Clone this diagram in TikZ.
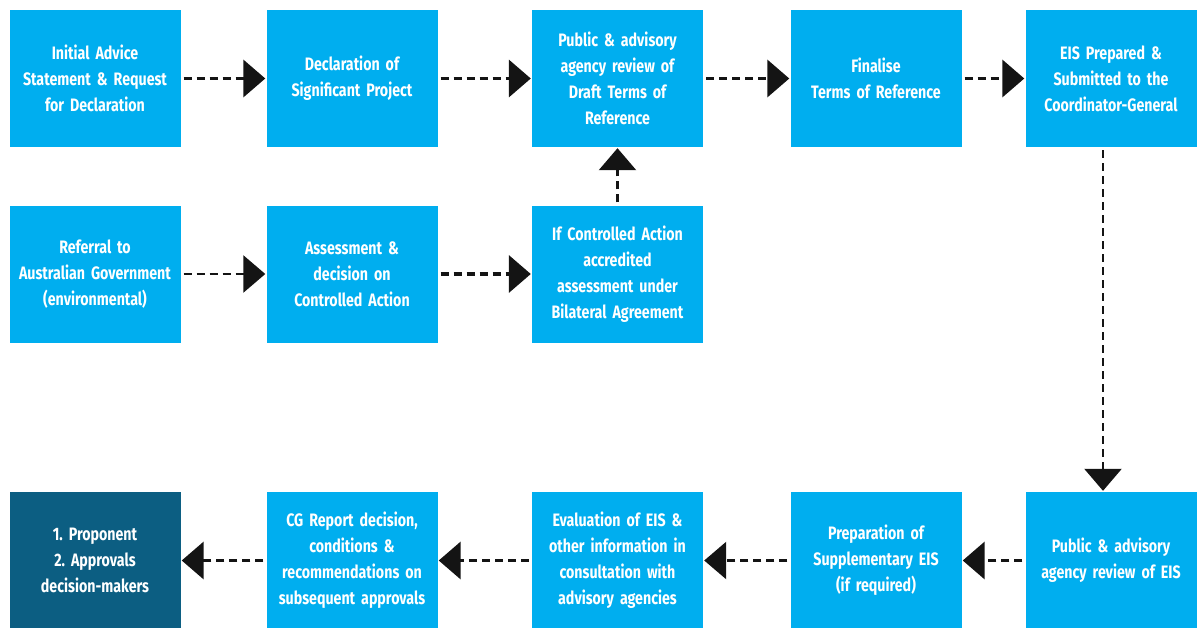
\documentclass[tikz,border=0pt]{standalone}
\usepackage{fontspec}
\setmainfont{Fira Sans}[FakeStretch=0.79,WordSpace=0.8]
\usetikzlibrary{arrows.meta,calc}
\frenchspacing
\definecolor{boxblue}{RGB}{0,174,239}
\definecolor{boxdark}{RGB}{12,94,130}
\tikzset{
  stepbox/.style={rectangle, fill=boxblue, draw=none, minimum width=171pt, minimum height=137pt,
    text width=168pt, align=center, text=white, font=\fontsize{18}{26}\selectfont\bfseries, inner sep=0pt},
  darkbox/.style={stepbox, fill=boxdark},
  flow/.style={line width=3.8pt, dash pattern=on 8pt off 5pt, draw=black!92,
    -{Triangle[length=22pt,width=37pt,fill=black!92]}, shorten <=3pt, shorten >=1pt},
  thinflow/.style={flow, line width=2.6pt}
}
\begin{document}
\begin{tikzpicture}[x=1pt,y=-1pt]
\useasboundingbox (0,0) rectangle (1202,627);
% row 1
\node[stepbox] (a1) at (95,78.5) {Initial Advice\\Statement \& Request\\for Declaration};
\node[stepbox] (a2) at (352,78.5) {Declaration of\\Significant Project};
\node[stepbox] (a3) at (617.5,78.5) {Public \& advisory\\agency review of\\Draft Terms of\\Reference};
\node[stepbox] (a4) at (876,78.5) {Finalise\\Terms of Reference};
\node[stepbox] (a5) at (1111,78.5) {EIS Prepared \&\\Submitted to the\\Coordinator-General};
% row 2
\node[stepbox] (b1) at (95,274) {Referral to\\Australian Government\\(environmental)};
\node[stepbox] (b2) at (352,274) {Assessment \&\\decision on\\Controlled Action};
\node[stepbox] (b3) at (617.5,274) {If Controlled Action\\accredited\\assessment under\\Bilateral Agreement};
% row 3
\node[darkbox] (c1) at (95,560.5) {1. Proponent\\2. Approvals\\decision-makers};
\node[stepbox] (c2) at (352,560.5) {CG Report decision,\\conditions \&\\recommendations on\\subsequent approvals};
\node[stepbox] (c3) at (617.5,560.5) {Evaluation of EIS \&\\other information in\\consultation with\\advisory agencies};
\node[stepbox] (c4) at (876,560.5) {Preparation of\\Supplementary EIS\\(if required)};
\node[stepbox] (c5) at (1111,560.5) {Public \& advisory\\agency review of EIS};
% connectors
\draw[flow] (a1) -- (a2);
\draw[flow] (a2) -- (a3);
\draw[flow] (a3) -- (a4);
\draw[flow] (a4) -- (a5);
\draw[thinflow] (b1) -- (b2);
\draw[flow] (b2) -- (b3);
\draw[thinflow] (b3) -- (a3);
\draw[thinflow] ([xshift=-8pt]a5.south) -- ([xshift=-8pt]c5.north);
\draw[flow] (c5) -- (c4);
\draw[thinflow] (c4) -- (c3);
\draw[flow] (c3) -- (c2);
\draw[flow] (c2) -- (c1);
\end{tikzpicture}
\end{document}
